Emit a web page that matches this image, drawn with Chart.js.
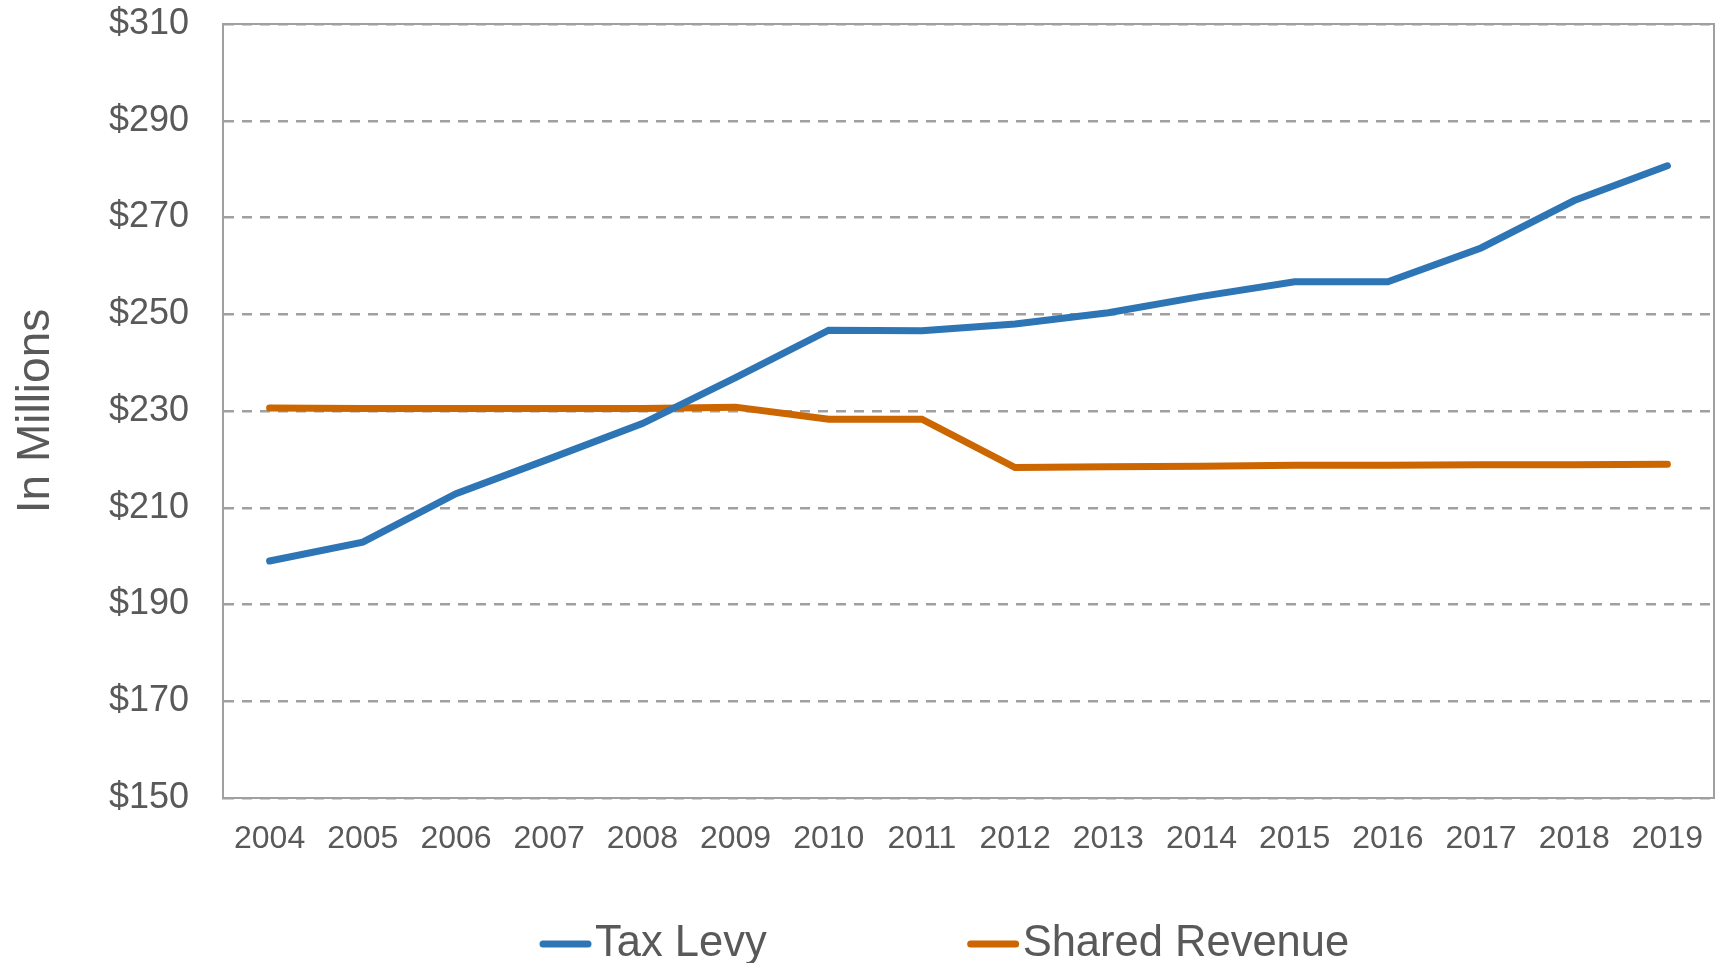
<!DOCTYPE html>
<html>
<head>
<meta charset="utf-8">
<title>Tax Levy vs Shared Revenue</title>
<script src="https://cdn.jsdelivr.net/npm/chart.js@4.4.1/dist/chart.umd.min.js"></script>
<style>
    html, body { margin: 0; padding: 0; background: #fff; }
    #wrap { width: 1725px; height: 963px; }
</style>
</head>
<body>
<div id="wrap"><canvas id="levyChart" width="1725" height="963"></canvas></div>
<script>
// Data (in millions)
const years = ['2004', '2005', '2006', '2007', '2008', '2009', '2010', '2011',
               '2012', '2013', '2014', '2015', '2016', '2017', '2018', '2019'];
const taxLevy = [199.0, 202.9, 212.9, 220.1, 227.4, 236.9, 246.7, 246.6,
                 248.0, 250.3, 253.7, 256.7, 256.7, 263.7, 273.5, 280.7];
const sharedRevenue = [230.6, 230.5, 230.5, 230.5, 230.5, 230.8, 228.3, 228.3,
                       218.3, 218.5, 218.6, 218.8, 218.8, 218.9, 218.9, 219.0];
const yMin = 150;
const yMax = 310;
const yStep = 20;

const textColor = '#595959';
const gridColor = '#a0a0a0';
const fontFamily = '"Liberation Sans", Arial, sans-serif';

// Draws the box around the plot area
const plotFrame = {
    id: 'plotFrame',
    beforeDatasetsDraw(chart) {
        const { ctx, chartArea } = chart;
        ctx.save();
        ctx.strokeStyle = gridColor;
        ctx.lineWidth = 2;
        ctx.strokeRect(chartArea.left, chartArea.top, chartArea.right - chartArea.left, chartArea.bottom - chartArea.top);
        ctx.restore();
    }
};

// Legend at the bottom with wide spacing between items
const wideLegend = {
    id: 'wideLegend',
    afterDraw(chart) {
        const { ctx, chartArea } = chart;
        const y = 944;
        const lineLen = 53;
        const gap = 200;
        ctx.save();
        ctx.font = '43.5px ' + fontFamily;
        ctx.textBaseline = 'middle';
        ctx.textAlign = 'left';
        let x = chartArea.left + 316;
        chart.data.datasets.forEach((ds) => {
            ctx.strokeStyle = ds.borderColor;
            ctx.lineWidth = 7;
            ctx.lineCap = 'round';
            ctx.beginPath();
            ctx.moveTo(x + 4, y);
            ctx.lineTo(x + lineLen - 4, y);
            ctx.stroke();
            ctx.fillStyle = textColor;
            ctx.fillText(ds.label, x + lineLen + 3, y);
            x += lineLen + 3 + ctx.measureText(ds.label).width + gap;
        });
        ctx.restore();
    }
};

const ctx = document.getElementById('levyChart').getContext('2d');
const levyChart = new Chart(ctx, {
    type: 'line',
    data: {
        labels: years,
        datasets: [{
            label: 'Tax Levy',
            data: taxLevy,
            borderColor: '#2e75b6',
            borderWidth: 7,
            borderCapStyle: 'round',
            pointRadius: 0,
            fill: false,
            tension: 0
        }, {
            label: 'Shared Revenue',
            data: sharedRevenue,
            borderColor: '#cc6600',
            borderWidth: 7,
            borderCapStyle: 'round',
            pointRadius: 0,
            fill: false,
            tension: 0
        }]
    },
    options: {
        responsive: false,
        animation: false,
        devicePixelRatio: 1,
        layout: { padding: { left: 0, right: 11, top: 24, bottom: 0 } },
        plugins: {
            legend: { display: false },
            tooltip: { enabled: false }
        },
        scales: {
            x: {
                offset: true,
                grid: { display: false, drawTicks: false },
                border: { display: true, color: gridColor, width: 2 },
                ticks: {
                    color: textColor,
                    font: { family: fontFamily, size: 32 },
                    padding: 22,
                    maxRotation: 0,
                    autoSkip: false
                },
                afterFit(scale) {
                    scale.height = 165;
                    scale.paddingLeft = 0;
                    scale.paddingRight = 0;
                }
            },
            y: {
                min: yMin,
                max: yMax,
                ticks: {
                    stepSize: yStep,
                    color: textColor,
                    font: { family: fontFamily, size: 36 },
                    padding: 34,
                    callback: (v) => '$' + v
                },
                grid: {
                    color: gridColor,
                    lineWidth: 2.5,
                    drawTicks: false
                },
                border: { display: true, color: gridColor, width: 2, dash: [10, 8] },
                title: {
                    display: true,
                    text: 'In Millions',
                    color: textColor,
                    font: { family: fontFamily, size: 46 },
                    padding: { top: 9, bottom: 0 }
                },
                afterFit(scale) {
                    scale.width = 223;
                    scale.paddingTop = 0;
                    scale.paddingBottom = 0;
                }
            }
        }
    },
    plugins: [plotFrame, wideLegend]
});
</script>
</body>
</html>
